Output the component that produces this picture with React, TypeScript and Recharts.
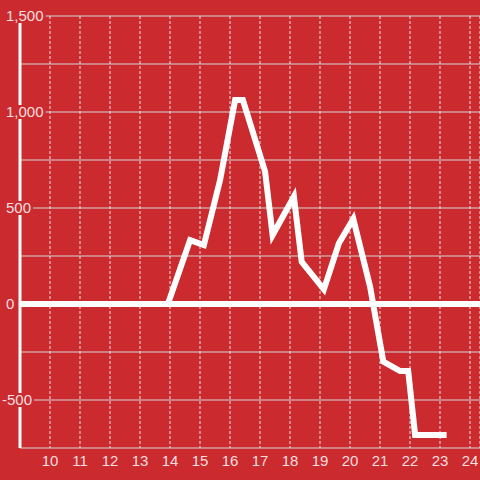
import React from "react";
import {
  LineChart,
  Line,
  XAxis,
  YAxis,
  CartesianGrid,
  ReferenceLine,
} from "recharts";

const BG = "#cb2a2f";
const TEXT = "rgba(255,255,255,0.86)";

const hours = [9, 13.93, 14.67, 15.13, 15.67, 16.17, 16.43, 17.17, 17.42, 18.13, 18.39, 19.13, 19.63, 20.11, 20.67, 21.11, 21.67, 21.94, 22.17, 23.22];
const values = [0, 0, 333, 307, 646, 1062, 1062, 689, 359, 559, 220, 76, 316, 443, 90, -300, -349, -349, -682, -682];
const xTicks = [10, 11, 12, 13, 14, 15, 16, 17, 18, 19, 20, 21, 22, 23, 24];
const yTicks = [-750, -500, -250, 0, 250, 500, 750, 1000, 1250, 1500];
const yLabelled = [-500, 0, 500, 1000, 1500];

const data = hours.map((h, i) => ({ h, v: values[i] }));

const fmt = (v: number) => String(v).replace(/\B(?=(\d{3})+(?!\d))/g, ",");

const textWidth = (s: string) => {
  let w = 0;
  for (const c of s) {
    if (c === ",") w += 4.17;
    else if (c === "-") w += 5;
    else w += 8.34;
  }
  return w;
};

const YTick = (props: any) => {
  const { y, payload } = props;
  const v = payload.value as number;
  if (!yLabelled.includes(v)) return <g />;
  const label = fmt(v);
  const x0 = v < 0 ? 2 : 6;
  const w = textWidth(label);
  return (
    <g>
      <rect x={x0 - 2} y={y - 7} width={w + 4} height={14} fill={BG} />
      <text
        x={x0}
        y={y}
        dy="0.36em"
        textAnchor="start"
        fill={TEXT}
        fontSize={15}
        fontFamily="'Liberation Sans', Arial, sans-serif"
      >
        {label}
      </text>
    </g>
  );
};

const XTick = (props: any) => {
  const { x, payload } = props;
  return (
    <text
      x={x}
      y={460.5}
      dy="0.36em"
      textAnchor="middle"
      fill={TEXT}
      fontSize={15}
      fontFamily="'Liberation Sans', Arial, sans-serif"
    >
      {payload.value}
    </text>
  );
};

export default function App() {
  return (
    <div
      style={{
        position: "absolute",
        left: 0,
        top: 0,
        width: 480,
        height: 480,
        background: BG,
        overflow: "hidden",
      }}
    >
      <LineChart
        width={480}
        height={480}
        data={data}
        margin={{ top: 16, right: 0, bottom: 0, left: 0 }}
      >
        <CartesianGrid
          horizontal={true}
          vertical={false}
          stroke="#d6d6d6"
          strokeWidth={1}
        />
        <CartesianGrid
          horizontal={false}
          vertical={true}
          stroke="#e4e4e4"
          strokeWidth={1}
          strokeDasharray="3 2"
        />
        <XAxis
          dataKey="h"
          type="number"
          domain={[9, 9 + 460 / 30]}
          ticks={xTicks}
          allowDataOverflow
          axisLine={false}
          tickLine={false}
          height={32}
          tick={<XTick />}
          interval={0}
        />
        <YAxis
          type="number"
          domain={[-750, 1500]}
          ticks={yTicks}
          allowDataOverflow
          width={20}
          axisLine={{ stroke: "#ffffff", strokeWidth: 3 }}
          tickLine={false}
          tick={<YTick />}
          interval={0}
        />
        <ReferenceLine y={0} stroke="#ffffff" strokeWidth={6} />
        <Line
          type="linear"
          dataKey="v"
          stroke="#ffffff"
          strokeWidth={6}
          dot={false}
          activeDot={false}
          isAnimationActive={false}
          strokeLinejoin="miter"
          strokeLinecap="butt"
        />
      </LineChart>
    </div>
  );
}
